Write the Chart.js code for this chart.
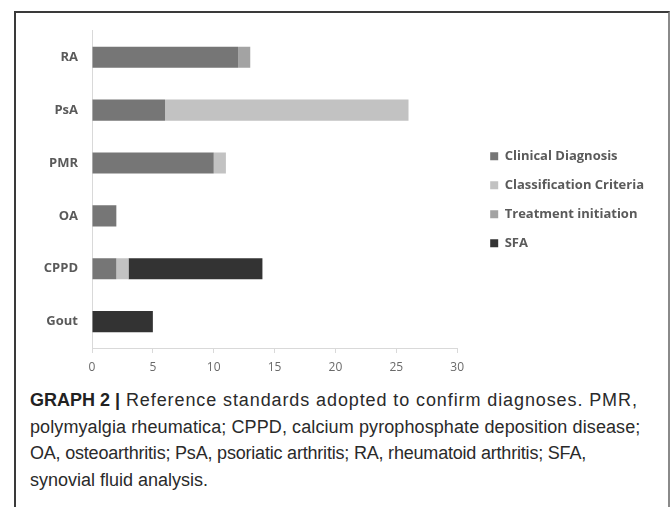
<!DOCTYPE html>
<html>
<head>
<meta charset="utf-8">
<script src="https://cdn.jsdelivr.net/npm/chart.js@4.4.0/dist/chart.umd.min.js"></script>
<style>
  body { margin: 0; background: #fff; width: 671px; height: 507px; overflow: hidden; position: relative; }
  #frame {
    position: absolute; left: 14px; top: 11px; width: 652px; height: 500px;
    border-left: 2px solid #3a3a3a; border-top: 2px solid #3a3a3a; border-right: 2px solid #8a8a8a;
  }
  #chartBox { position: absolute; left: 16px; top: 9px; width: 653px; height: 373px; }
  #caption {
    position: absolute; left: 30px; top: 387px; width: 630px;
    font-family: "Liberation Sans", Arial, sans-serif; font-size: 18px; line-height: 26.6px;
    color: #2a2a2a; white-space: nowrap;
  }
  #caption .l1 { letter-spacing: 0.9px; }
  #caption .l2 { letter-spacing: 0.1px; }
  #caption .l3 { letter-spacing: -0.2px; }
  #caption b { font-weight: bold; color: #222; letter-spacing: 0; }
</style>
</head>
<body>
<div id="frame"></div>
<div id="chartBox"><canvas id="myChart"></canvas></div>
<div id="caption">
  <div class="l1"><b>GRAPH 2 |</b> Reference standards adopted to confirm diagnoses. PMR,</div>
  <div class="l2">polymyalgia rheumatica; CPPD, calcium pyrophosphate deposition disease;</div>
  <div class="l3">OA, osteoarthritis; PsA, psoriatic arthritis; RA, rheumatoid arthritis; SFA,</div>
  <div>synovial fluid analysis.</div>
</div>
<script>
const categories = ["RA", "PsA", "PMR", "OA", "CPPD", "Gout"];
const clinicalDiagnosis = [12, 6, 10, 2, 2, 0];
const classificationCriteria = [0, 20, 1, 0, 1, 0];
const treatmentInitiation = [1, 0, 0, 0, 0, 0];
const sfa = [0, 0, 0, 0, 11, 5];
const xTicks = [0, 5, 10, 15, 20, 25, 30];

const ctx = document.getElementById("myChart");
const myChart = new Chart(ctx, {
  type: "bar",
  data: {
    labels: categories,
    datasets: [
      { label: "Clinical Diagnosis", data: clinicalDiagnosis, backgroundColor: "#767676" },
      { label: "Classification Criteria", data: classificationCriteria, backgroundColor: "#c2c2c2" },
      { label: "Treatment initiation", data: treatmentInitiation, backgroundColor: "#a3a3a3" },
      { label: "SFA", data: sfa, backgroundColor: "#333333" },
    ],
  },
  options: {
    indexAxis: "y",
    responsive: true,
    maintainAspectRatio: false,
    animation: false,
    categoryPercentage: 1,
    barPercentage: 0.4,
    layout: { padding: { right: 15 } },
    plugins: {
      tooltip: { enabled: false },
      legend: {
        position: "right",
        align: "center",
        maxWidth: 220,
        // empty title only nudges the items down a little
        title: { display: true, text: "", padding: 3, font: { size: 2 } },
        labels: {
          boxWidth: 8,
          boxHeight: 8,
          padding: 16,
          color: "#5a5a5a",
          font: { family: "'Open Sans'", size: 13, weight: "bold" },
        },
      },
    },
    scales: {
      x: {
        stacked: true,
        min: 0,
        max: 30,
        afterBuildTicks: (s) => { s.ticks = xTicks.map((v) => ({ value: v })); },
        afterFit: (s) => { s.height = 34; },
        grid: { drawOnChartArea: false, drawTicks: true, tickLength: 5, color: "#d9d9d9" },
        border: { color: "#d9d9d9" },
        ticks: { color: "#6a6a6a", padding: 7, font: { family: "'Open Sans'", size: 12 } },
      },
      y: {
        stacked: true,
        afterFit: (s) => { s.width = 76; },
        grid: { drawOnChartArea: false, drawTicks: false },
        border: { color: "#d9d9d9" },
        ticks: { color: "#5a5a5a", padding: 14, font: { family: "'Open Sans'", size: 13, weight: "bold" } },
      },
      // empty spacer between plot and legend
      gap: {
        type: "category",
        position: "right",
        afterFit: (s) => { s.width = 17; },
        grid: { display: false },
        border: { display: false },
        ticks: { display: false },
      },
    },
  },
});
</script>
</body>
</html>
